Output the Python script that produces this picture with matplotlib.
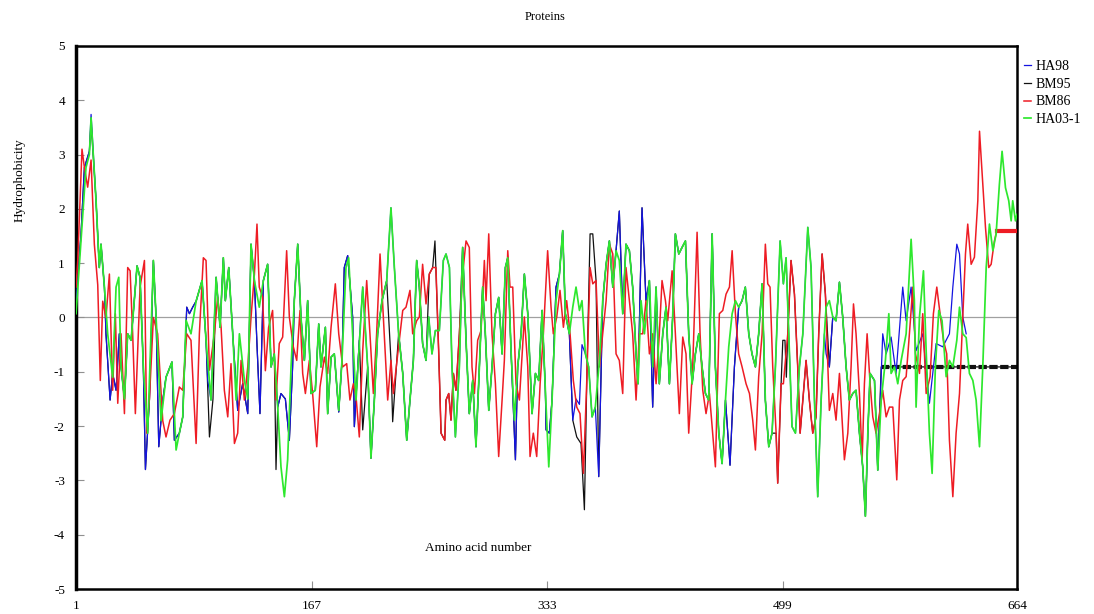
import numpy as np
import matplotlib
matplotlib.use("Agg")
import matplotlib.pyplot as plt

plt.rcParams["axes.unicode_minus"] = False

# hydrophobicity profiles, (amino acid number, value)
ha98 = np.array([
    (1, 0.3), (4.5, 1.53), (6.9, 2.76), (10.4, 3.06), (11.6, 3.74), (15.1, 2.15), (17.4, 0.92),
    (18.6, 1.35), (21.0, 0.56), (22.1, -0.3), (25.0, -1.52), (26.8, -1.03), (29.2, -1.34),
    (31.5, -0.3), (32.7, -0.9), (35.1, -1.5), (37.4, -0.3), (39.8, -0.42), (44.0, 0.95),
    (46.1, 0.74), (48.4, -0.9), (49.9, -2.8), (52.7, -1.52), (55.5, 1.05), (57.4, 0.0),
    (59.3, -2.38), (62.1, -1.52), (64.4, -1.1), (68.6, -0.82), (70.3, -2.26), (73.8, -2.13),
    (76.2, -1.83), (79.0, 0.19), (80.9, 0.07), (83.2, 0.19), (85.6, 0.3), (89.8, 0.68),
    (92.6, -0.42), (93.8, -1.16), (96.1, -1.52), (99.7, 0.74), (102.5, -0.18), (104.8, 1.1),
    (106.2, 0.31), (108.6, 0.92), (111.4, -0.3), (114.9, -1.71), (118.4, -1.22), (122.0, -1.77),
    (124.3, 1.35), (126.7, 0.68), (128.5, -0.5), (130.6, -1.77), (133.0, 0.68), (136.0, 0.98),
    (138.4, -0.91), (140.7, -0.67), (143.1, -1.65), (145.4, -1.4), (148.5, -1.5), (151.3, -2.26),
    (153.6, -0.91), (154.8, 0.31), (157.2, 1.35), (159.5, 0.0), (161.9, -0.79), (164.2, 0.31),
    (166.6, -1.4), (169.6, -1.34), (172.0, -0.12), (173.6, -0.91), (176.7, -0.18), (178.3, -1.77),
    (180.7, -0.73), (183.0, -0.67), (186.1, -1.74), (188.4, -0.79), (190.0, 0.92), (192.4, 1.14),
    (195.9, 0.01), (197.1, -2.01), (200.6, -0.42), (203.0, 0.56), (206.5, -0.91), (208.8, -2.59),
    (211.2, -1.52), (213.5, -0.3), (216.6, 0.31), (219.9, 0.68), (222.9, 2.02), (225.3, 0.92),
    (228.3, -0.3), (231.2, -1.03), (234.0, -2.26), (236.3, -1.52), (238.7, -0.79), (241.0, 1.05),
    (242.9, 0.56), (245.2, -0.48), (247.6, -0.79), (249.5, 0.01), (251.8, -0.67), (254.2, -0.24),
    (257.0, -0.24), (259.8, 1.05), (261.7, 1.17), (264.1, 0.92), (265.9, -0.91), (268.3, -2.2),
    (271.1, -0.91), (273.4, 1.29), (275.8, -0.42), (278.1, -1.77), (280.5, -1.16), (282.8, -2.38),
    (285.2, -0.91), (287.5, 0.56), (289.4, -0.3), (291.8, -1.71), (294.1, -0.91), (296.5, 0.07),
    (298.8, 0.37), (301.2, -0.67), (303.5, 0.92), (305.2, 1.1), (307.5, -0.61), (310.6, -2.62),
    (312.2, -0.91), (314.6, -0.3), (316.9, 0.8), (319.3, 0.07), (322.3, -1.77), (324.7, -1.03),
    (327.0, -1.16), (329.4, 0.13), (331.7, -1.34), (332.2, -2.07), (334.5, -2.13), (336.4, -1.52),
    (339.2, 0.56), (341.6, 0.8), (343.9, 1.6), (345.8, 0.07), (348.6, -0.3), (351.0, -1.89),
    (353.3, -1.5), (355.7, -1.6), (357.5, -0.5), (359.9, -0.67), (362.2, -0.91), (364.6, -1.83),
    (366.9, -1.65), (369.3, -2.93), (372.1, 0.31), (374.5, 0.98), (376.8, 1.41), (379.2, 0.56),
    (381.5, 1.23), (383.8, 1.96), (386.2, 0.07), (388.5, 1.35), (390.9, 1.23), (393.2, 0.56),
    (395.6, -0.67), (397.0, -1.22), (399.8, 2.02), (402.6, 0.31), (405.0, 0.68), (407.3, -1.65),
    (409.7, 0.56), (412.0, -1.22), (414.4, -0.3), (416.7, 0.19), (419.1, -1.22), (421.4, 0.01),
    (423.3, 1.54), (425.7, 1.17), (428.0, 1.29), (430.4, 1.41), (432.7, -0.3), (435.1, -1.22),
    (437.4, -0.67), (439.8, -0.3), (442.1, -0.91), (444.5, -1.4), (446.8, -1.52), (449.2, 1.54),
    (451.5, -0.91), (453.9, -2.13), (456.2, -2.69), (458.6, -1.52), (461.8, -2.72), (464.9, -0.91),
    (467.9, 0.19), (470.3, 0.31), (472.6, 0.56), (475.0, -0.3), (477.3, -0.67), (479.7, -0.91),
    (482.0, -0.3), (484.4, 0.62), (486.7, -1.52), (489.1, -2.38), (491.4, -2.13), (493.8, -0.91),
    (497.1, 1.41), (499.4, 0.62), (501.3, 1.1), (503.2, -0.3), (505.5, -2.01), (507.9, -2.13),
    (510.7, -0.91), (513.1, -0.3), (516.6, 1.66), (518.9, 0.92), (521.3, -1.52), (523.6, -3.3),
    (526.0, -1.52), (528.3, -0.3), (529.5, -0.67), (531.8, -0.91), (534.2, 0.01), (536.5, -0.06),
    (538.9, 0.65), (541.2, 0.01), (543.6, -0.91), (545.9, -1.52), (548.3, -1.4), (550.6, -1.34),
    (553.0, -2.13), (555.3, -2.75), (557.2, -3.66), (558.9, -2.13), (560.5, -1.03), (563.6, -1.16),
    (565.9, -2.81), (569.4, -0.3), (571.8, -0.67), (575.3, -0.36), (578.8, -1.03), (583.5, 0.56),
    (585.9, -0.06), (589.4, 0.56), (592.9, -0.61), (597.6, -0.3), (602.3, -1.58), (607.0, -0.48),
    (611.7, -0.54), (616.4, -0.3), (618.8, 0.56), (621.6, 1.35), (623.5, 1.17), (625.8, 0.01),
    (628.2, -0.3),
])

bm95 = np.array([
    (1, 0.3), (4.5, 1.53), (6.9, 2.76), (10.4, 3.06), (11.6, 3.6), (15.1, 2.15), (17.4, 0.92),
    (18.6, 1.35), (21.0, 0.56), (22.1, -0.3), (25.0, -1.52), (26.8, -1.03), (29.2, -1.34),
    (31.5, -0.3), (32.7, -0.9), (35.1, -1.5), (37.4, -0.3), (39.8, -0.42), (44.0, 0.95),
    (46.1, 0.74), (48.4, -0.9), (49.9, -2.8), (52.7, -1.52), (55.5, 1.05), (57.4, 0.0),
    (59.3, -2.38), (62.1, -1.52), (64.4, -1.1), (68.6, -0.82), (70.3, -2.26), (73.8, -2.13),
    (76.2, -1.83), (79.0, 0.19), (80.9, 0.07), (83.2, 0.19), (85.6, 0.3), (89.8, 0.68),
    (92.6, -0.42), (95.0, -2.2), (97.5, -1.5), (99.7, 0.74), (102.5, -0.18), (104.8, 1.1),
    (106.2, 0.31), (108.6, 0.92), (111.4, -0.3), (114.9, -1.71), (118.4, -1.22), (122.0, -1.77),
    (124.3, 1.35), (126.7, 0.68), (128.5, -0.5), (130.6, -1.77), (133.0, 0.68), (136.0, 0.98),
    (138.4, -0.91), (140.7, -0.67), (141.9, -2.8), (143.1, -1.65), (145.4, -1.4), (148.5, -1.5),
    (151.3, -2.26), (153.6, -0.91), (154.8, 0.31), (157.2, 1.35), (159.5, 0.0), (161.9, -0.79),
    (164.2, 0.31), (166.6, -1.4), (169.6, -1.34), (172.0, -0.12), (173.6, -0.91), (176.7, -0.18),
    (178.3, -1.77), (180.7, -0.73), (183.0, -0.67), (186.1, -1.74), (188.4, -0.79), (190.0, 0.92),
    (192.4, 1.14), (195.9, 0.01), (197.1, -2.01), (200.6, -0.42), (203.0, -2.07), (206.5, -0.91),
    (208.8, -2.59), (211.2, -1.52), (213.5, -0.3), (216.6, 0.31), (219.9, 0.68), (222.9, -0.79),
    (224.1, -1.92), (226.9, -0.85), (228.3, -0.3), (231.2, -1.03), (234.0, -2.26), (236.3, -1.52),
    (238.7, -0.79), (241.0, 1.05), (242.9, 0.56), (245.2, -0.48), (247.6, -0.79), (249.9, 0.8),
    (252.3, 0.92), (253.9, 1.41), (256.5, -0.61), (258.2, -2.13), (260.8, -2.26), (261.7, -1.52),
    (263.6, -1.4), (265.2, -1.89), (266.9, -1.03), (268.7, -1.34), (271.1, -0.3), (273.4, 1.29),
    (275.8, -0.42), (278.1, -1.77), (280.5, -1.16), (282.8, -2.38), (285.2, -0.91), (287.5, 0.56),
    (289.4, -0.3), (291.8, -1.71), (294.1, -0.91), (296.5, 0.07), (298.8, 0.37), (301.2, -0.67),
    (303.5, 0.92), (305.2, 1.1), (307.5, -0.61), (310.6, -2.62), (312.2, -0.91), (314.6, -0.3),
    (316.9, 0.8), (319.3, 0.07), (322.3, -1.77), (324.7, -1.03), (327.0, -1.16), (329.4, 0.13),
    (331.7, -1.34), (332.2, -2.07), (334.5, -2.13), (336.4, -1.52), (339.2, 0.56), (341.6, 0.8),
    (343.9, 1.6), (345.8, 0.07), (348.6, -0.3), (351.0, -1.89), (353.8, -2.2), (356.8, -2.32),
    (359.2, -3.54), (361.0, -1.0), (363.2, 1.54), (365.1, 1.54), (367.4, 0.68), (369.3, -2.93),
    (372.1, 0.31), (374.5, 0.98), (376.8, 1.41), (379.2, 0.56), (381.5, 1.23), (383.8, 1.96),
    (386.2, 0.07), (388.5, 1.35), (390.9, 1.23), (393.2, 0.56), (395.6, -0.67), (397.0, -1.22),
    (399.8, 2.02), (402.6, 0.31), (405.0, 0.68), (407.3, -1.65), (409.7, 0.56), (412.0, -1.22),
    (414.4, -0.3), (416.7, 0.19), (419.1, -1.22), (421.4, 0.01), (423.3, 1.54), (425.7, 1.17),
    (428.0, 1.29), (430.4, 1.41), (432.7, -0.3), (435.1, -1.22), (437.4, -0.67), (439.8, -0.3),
    (442.1, -0.91), (444.5, -1.4), (446.8, -1.52), (449.2, 1.54), (451.5, -0.91), (453.9, -2.13),
    (456.2, -2.69), (458.6, -1.52), (461.8, -2.72), (464.9, -0.91), (467.9, 0.19), (470.3, 0.31),
    (472.6, 0.56), (475.0, -0.3), (477.3, -0.67), (479.7, -0.91), (482.0, -0.3), (484.4, 0.62),
    (486.7, -1.52), (489.1, -2.38), (491.4, -2.13), (494.3, -2.13), (495.4, -3.05), (497.8, -1.22),
    (499.0, -0.42), (500.5, -0.42), (501.5, -1.1), (502.5, -0.3), (504.8, 1.05), (507.2, 0.43),
    (509.5, -0.91), (511.2, -2.13), (513.1, -1.52), (515.4, -0.79), (517.7, -1.52), (520.1, -2.13),
    (522.4, -1.83), (524.3, -0.3), (526.7, 1.17), (529.0, 0.43), (531.8, -0.91), (534.2, 0.01),
    (536.5, -0.06), (538.9, 0.65), (541.2, 0.01), (543.6, -0.91), (545.9, -1.52), (548.3, -1.4),
    (550.6, -1.34), (553.0, -2.13), (555.3, -2.75), (557.2, -3.66), (558.9, -2.13), (560.5, -1.03),
    (563.6, -1.16), (565.9, -2.81), (568.3, -0.91), (664, -0.91),
])

bm86 = np.array([
    (1, 0.56), (2.2, 1.05), (5.2, 3.1), (6.9, 2.76), (9.2, 2.4), (11.6, 2.9), (13.9, 1.35),
    (16.3, 0.6), (18.1, -1.16), (19.8, 0.3), (22.1, 0.0), (24.5, 0.8), (26.8, -1.34), (28.7, 0.07),
    (30.4, -1.58), (32.7, -0.3), (35.1, -1.77), (37.4, 0.92), (39.1, 0.86), (40.9, -0.3),
    (42.8, -1.77), (46.1, 0.56), (49.2, 1.05), (50.8, -2.13), (52.7, -1.5), (55.5, 0.0),
    (58.5, -0.3), (62.1, -1.9), (64.4, -2.2), (67.2, -1.89), (70.3, -1.77), (73.8, -1.28),
    (76.2, -1.34), (79.0, -0.3), (82.0, -0.42), (85.6, -2.32), (87.9, -0.3), (90.7, 1.1),
    (92.6, 1.05), (95.0, -0.97), (98.5, -0.3), (100.8, 0.37), (103.2, -0.18), (105.5, -1.34),
    (107.9, -1.83), (110.2, -0.85), (112.6, -2.32), (114.9, -2.13), (117.3, -0.79), (119.6, -1.52),
    (122.0, -0.91), (124.3, 0.0), (126.7, 0.8), (128.5, 1.72), (130.1, 0.56), (132.5, 0.37),
    (134.4, -0.98), (136.7, -0.18), (139.5, 0.13), (141.9, -1.52), (144.2, -0.48), (146.6, -0.36),
    (149.4, 1.23), (151.3, 0.01), (154.1, -0.54), (156.5, -0.79), (158.8, 0.13), (160.7, -1.03),
    (162.6, -1.4), (165.4, -0.79), (167.7, -1.4), (170.6, -2.38), (172.9, -1.28), (176.0, -0.73),
    (178.3, -1.03), (180.7, -0.18), (183.7, 0.62), (186.1, -0.3), (188.9, -0.91), (191.7, -0.85),
    (194.0, -1.52), (196.4, -1.22), (198.3, -1.46), (200.6, -2.2), (203.0, -0.61), (205.8, 0.68),
    (208.1, -0.3), (210.5, -1.4), (212.8, -0.3), (215.2, 1.17), (217.5, 0.01), (220.6, -1.52),
    (222.9, -0.79), (224.6, -1.4), (226.9, -0.85), (229.3, -0.3), (231.2, 0.13), (233.5, 0.19),
    (236.3, 0.5), (238.2, -0.3), (241.0, -0.06), (242.9, 0.01), (245.2, 0.98), (247.6, 0.25),
    (249.9, 0.8), (252.3, 0.92), (254.6, 0.92), (256.5, -0.61), (258.2, -2.13), (260.8, -2.26),
    (261.7, -1.52), (263.6, -1.4), (265.2, -1.89), (266.9, -1.03), (268.7, -1.34), (271.1, -0.3),
    (273.4, 0.8), (275.8, 1.41), (278.1, 1.29), (280.0, -0.91), (281.7, -1.4), (284.0, -0.42),
    (286.4, -0.24), (288.7, 1.05), (289.9, 0.31), (291.8, 1.54), (294.1, -0.3), (296.5, -1.22),
    (298.8, -2.56), (301.2, -1.52), (302.8, -0.79), (305.2, 1.23), (306.8, 0.56), (308.7, 0.56),
    (311.0, -1.22), (313.4, -1.52), (316.9, 0.01), (319.3, -0.91), (320.9, -2.56), (323.2, -2.13),
    (325.6, -2.56), (328.0, -1.22), (330.3, -0.3), (333.3, 1.23), (335.7, 0.19), (337.3, -0.3),
    (339.7, 0.01), (342.0, 0.5), (344.4, -0.18), (346.7, 0.31), (349.1, -0.3), (351.4, -1.16),
    (353.8, -1.65), (356.1, -1.77), (358.5, -2.87), (360.8, -1.22), (363.2, 0.92), (365.1, 0.62),
    (367.4, 0.68), (369.8, -0.91), (372.1, -0.3), (374.5, 0.31), (376.8, 1.35), (379.2, 1.17),
    (381.5, -0.67), (383.8, -0.79), (386.2, -1.4), (388.5, 0.92), (390.9, 0.31), (393.2, -0.3),
    (395.6, -1.52), (397.9, -0.3), (400.3, -0.3), (402.6, 0.31), (405.0, -0.67), (407.3, -0.3),
    (409.7, -1.22), (412.0, -0.3), (413.9, 0.68), (416.3, 0.31), (417.9, -0.06), (421.0, 0.86),
    (423.3, -0.3), (426.1, -1.77), (428.5, -0.36), (430.8, -0.67), (432.7, -2.13), (435.5, -0.91),
    (438.6, 1.57), (440.7, -0.3), (442.6, -1.34), (444.9, -1.77), (447.3, -1.4), (449.6, -2.13),
    (451.5, -2.75), (454.3, 0.07), (456.7, 0.13), (459.0, 0.43), (461.4, 0.56), (463.3, 1.23),
    (465.6, 0.07), (467.9, -0.67), (470.3, -0.91), (473.1, -1.22), (475.5, -1.4), (477.8, -1.89),
    (479.7, -2.44), (482.0, -1.09), (484.4, -0.3), (486.7, 1.35), (488.4, 0.62), (490.0, 0.56),
    (491.9, -0.91), (494.3, -2.13), (495.4, -3.05), (497.8, -1.22), (499.4, -1.22), (502.5, -0.3),
    (504.8, 1.05), (507.2, 0.43), (509.5, -0.91), (511.2, -2.13), (513.1, -1.52), (515.4, -0.79),
    (517.7, -1.52), (520.1, -2.13), (522.4, -1.83), (524.3, -0.3), (526.7, 1.17), (529.0, 0.43),
    (531.8, -1.71), (534.2, -1.4), (536.5, -1.89), (538.9, -1.03), (542.4, -2.62), (544.8, -2.13),
    (547.1, -0.91), (548.8, 0.25), (550.6, -0.3), (553.0, -1.4), (554.9, -2.62), (556.5, -1.22),
    (558.4, -0.3), (560.5, -1.22), (562.4, -1.83), (564.7, -2.13), (567.1, -1.77), (569.4, -1.34),
    (571.8, -1.83), (574.1, -1.65), (576.5, -1.65), (579.3, -2.99), (581.2, -1.52), (583.5, -1.16),
    (585.9, -1.09), (588.2, -0.3), (590.6, 0.56), (592.5, -0.67), (595.3, -1.03), (597.6, 0.07),
    (600.0, -1.4), (602.8, -1.09), (605.1, 0.07), (607.5, 0.56), (609.8, 0.07), (612.2, -0.42),
    (614.5, -0.67), (616.4, -2.26), (618.8, -3.3), (621.1, -2.13), (623.5, -1.4), (625.8, 0.01),
    (627.7, 1.17), (629.3, 1.72), (631.7, 0.98), (634.0, 1.11), (636.4, 2.15), (637.6, 3.43),
    (639.9, 2.45), (641.8, 1.66), (644.1, 0.92), (645.8, 0.98), (648.1, 1.41), (649.8, 1.6),
    (664, 1.6),
])

ha03_1 = np.array([
    (1, 0.07), (8.0, 2.76), (10.4, 3.0), (11.6, 3.68), (15.1, 2.15), (17.4, 0.92), (18.6, 1.35),
    (21.0, 0.56), (23.3, -0.3), (26.8, -1.1), (29.2, 0.56), (31.1, 0.74), (32.7, -0.9), (35.1, -1.5),
    (37.4, -0.3), (39.8, -0.42), (44.0, 0.95), (46.1, 0.74), (48.4, -0.9), (51.5, -2.13),
    (55.5, 1.05), (57.4, 0.0), (60.9, -1.9), (64.4, -1.1), (68.6, -0.82), (71.5, -2.44),
    (73.8, -2.13), (76.2, -1.83), (78.5, -0.05), (82.0, -0.3), (85.6, 0.3), (89.8, 0.68),
    (92.6, -0.42), (96.1, -1.52), (99.7, 0.74), (102.5, -0.18), (104.8, 1.1), (106.2, 0.31),
    (108.6, 0.92), (111.4, -0.3), (113.8, -1.52), (116.1, -0.3), (119.6, -1.15), (122.0, -1.5),
    (124.3, 1.35), (126.7, 0.68), (130.1, 0.19), (133.0, 0.68), (136.0, 0.98), (138.4, -0.91),
    (140.7, -0.67), (143.1, -1.65), (145.4, -2.75), (147.8, -3.3), (150.1, -2.62), (152.5, -0.91),
    (154.8, 0.31), (157.2, 1.35), (159.5, 0.0), (161.9, -0.79), (164.2, 0.31), (166.6, -1.4),
    (169.6, -1.34), (172.0, -0.12), (173.6, -0.91), (176.7, -0.18), (178.3, -1.77), (180.7, -0.73),
    (183.0, -0.67), (186.1, -1.71), (188.4, -0.79), (191.2, 0.92), (193.1, 1.1), (195.9, -0.3),
    (198.3, -1.52), (201.1, -0.3), (203.0, 0.56), (206.5, -0.91), (208.8, -2.59), (211.2, -1.52),
    (213.5, -0.3), (216.6, 0.31), (219.9, 0.68), (222.9, 2.02), (225.3, 0.92), (228.3, -0.3),
    (231.2, -1.03), (234.0, -2.26), (236.3, -1.52), (238.7, -0.79), (241.0, 1.05), (242.9, 0.56),
    (245.2, -0.48), (247.6, -0.79), (249.5, 0.01), (251.8, -0.67), (254.2, -0.24), (257.0, -0.24),
    (259.8, 1.05), (261.7, 1.17), (264.1, 0.92), (265.9, -0.91), (268.3, -2.2), (271.1, -0.91),
    (273.4, 1.29), (275.8, -0.42), (278.1, -1.77), (280.5, -1.16), (282.8, -2.38), (285.2, -0.91),
    (287.5, 0.56), (289.4, -0.3), (291.8, -1.71), (294.1, -0.91), (296.5, 0.07), (298.8, 0.37),
    (301.2, -0.67), (303.5, 0.92), (305.2, 1.1), (307.5, -0.61), (309.9, -1.89), (312.2, -0.91),
    (314.6, -0.3), (316.9, 0.8), (319.3, 0.07), (322.3, -1.77), (324.7, -1.03), (327.0, -1.16),
    (329.4, 0.13), (331.7, -1.34), (334.1, -2.75), (336.4, -1.52), (339.2, 0.31), (341.6, 0.8),
    (343.9, 1.6), (345.8, 0.07), (348.6, -0.3), (351.0, 0.19), (353.3, 0.56), (355.7, 0.13),
    (357.5, 0.31), (359.9, -0.67), (362.2, -0.91), (364.6, -1.83), (366.9, -1.65), (369.8, -0.79),
    (372.1, 0.31), (374.5, 0.98), (376.8, 1.41), (379.2, 0.56), (381.5, 1.23), (383.8, 1.05),
    (386.2, 0.07), (388.5, 1.35), (390.9, 1.23), (393.2, 0.56), (395.6, -0.67), (397.0, -1.22),
    (399.1, 0.31), (401.5, -0.3), (405.0, 0.68), (407.3, -0.91), (409.7, 0.56), (412.0, -1.22),
    (414.4, -0.3), (416.7, 0.19), (419.1, -1.22), (421.4, 0.01), (423.3, 1.54), (425.7, 1.17),
    (428.0, 1.29), (430.4, 1.41), (432.7, -0.3), (435.1, -1.22), (437.4, -0.67), (439.8, -0.3),
    (442.1, -0.91), (444.5, -1.4), (446.8, -1.52), (449.2, 1.54), (451.5, -0.91), (453.9, -2.13),
    (456.2, -2.69), (458.6, -1.52), (460.9, -0.54), (463.3, 0.07), (465.6, 0.31), (467.9, 0.19),
    (470.3, 0.31), (472.6, 0.56), (475.0, -0.3), (477.3, -0.67), (479.7, -0.91), (482.0, -0.3),
    (484.4, 0.62), (486.7, -1.52), (489.1, -2.38), (491.4, -2.13), (493.8, -0.91), (497.1, 1.41),
    (499.4, 0.62), (501.3, 1.1), (503.2, -0.3), (505.5, -2.01), (507.9, -2.13), (510.7, -0.91),
    (513.1, -0.3), (516.6, 1.66), (518.9, 0.92), (521.3, -1.52), (523.6, -3.3), (526.0, -1.52),
    (528.3, -0.3), (529.5, 0.19), (531.8, 0.31), (534.2, 0.01), (536.5, -0.06), (538.9, 0.65),
    (541.2, 0.01), (543.6, -0.91), (545.9, -1.52), (548.3, -1.4), (550.6, -1.34), (553.0, -2.13),
    (555.3, -2.75), (557.2, -3.66), (558.9, -2.13), (560.5, -1.03), (563.6, -1.16), (565.9, -2.81),
    (568.3, -1.52), (571.3, -0.79), (573.7, 0.07), (575.3, -1.03), (577.7, -0.91), (580.0, -1.22),
    (582.4, -0.79), (585.9, -0.3), (589.4, 1.44), (591.7, 0.31), (592.9, -1.65), (595.3, 0.01),
    (598.1, 0.86), (600.0, -0.61), (602.3, -2.13), (604.2, -2.87), (606.5, -0.91), (608.9, 0.13),
    (611.2, -0.06), (614.1, -1.09), (616.4, -0.79), (618.8, -0.91), (621.6, -0.42), (623.5, 0.19),
    (625.8, -0.3), (628.2, -0.37), (630.5, -1.03), (632.9, -1.16), (635.2, -1.52), (637.6, -2.38),
    (639.9, -0.91), (642.3, 0.92), (644.6, 1.72), (647.0, 1.23), (649.3, 1.54), (651.6, 2.45),
    (653.5, 3.06), (655.9, 2.39), (658.2, 2.15), (659.9, 1.78), (661.0, 2.15), (662.9, 1.78),
    (664, 1.9),
])

names = ["HA98", "BM95", "BM86", "HA03-1"]
colors = ["#1414e0", "#111111", "#ee1c24", "#2ee82e"]
xticks = [1, 167, 333, 499, 664]

serif = "Liberation Serif"

fig = plt.figure(figsize=(10.94, 6.14), dpi=100)
ax = fig.add_axes([0.0695, 0.0407, 0.8601, 0.8844])

ax.axhline(0, color="#a0a0a0", lw=0.9, zorder=1)

series = [ha98, bm95, bm86, ha03_1]
zorders = [3, 2, 4, 5]
widths = [0.9, 0.9, 1.1, 1.25]
lines = []
for data, name, c, z, w in zip(series, names, colors, zorders, widths):
    ln, = ax.plot(data[:, 0], data[:, 1], color=c, lw=w, label=name, zorder=z)
    lines.append(ln)

# flat tails drawn thick, as in the original
ax.plot(bm95[-2:, 0], bm95[-2:, 1], color="#111111", lw=3, ls=(0, (2, 0.6)), zorder=2)
ax.plot(bm86[-2:, 0], bm86[-2:, 1], color="#ee1c24", lw=3, zorder=4)

ax.set_xlim(1, 664)
ax.set_ylim(-5, 5)
ax.set_xticks(xticks)
ax.set_yticks(range(-5, 6))
ax.tick_params(direction="in", length=6, color="#909090", labelsize=9.5, pad=8)
for lab in ax.get_xticklabels() + ax.get_yticklabels():
    lab.set_fontfamily(serif)
for s in ax.spines.values():
    s.set_linewidth(1.8)
ax.spines["left"].set_linewidth(2.5)

fig.text(545 / 1094, 1 - 17 / 614, "Proteins", ha="center", va="center", fontsize=9, family=serif)
fig.text(20 / 1094, 1 - 180 / 614, "Hydrophobicity", rotation=90, ha="center", va="center",
         fontsize=9.5, family=serif)
fig.text(478 / 1094, 1 - 548 / 614, "Amino acid number", ha="center", va="center",
         fontsize=9.5, family=serif)

ax.legend(handles=lines, loc="upper left", bbox_to_anchor=(1.002, 0.985), frameon=False,
          handlelength=0.5, handletextpad=0.3, labelspacing=0.35, borderaxespad=0,
          prop={"family": serif, "size": 10})

fig.savefig("out.png", dpi=100)
